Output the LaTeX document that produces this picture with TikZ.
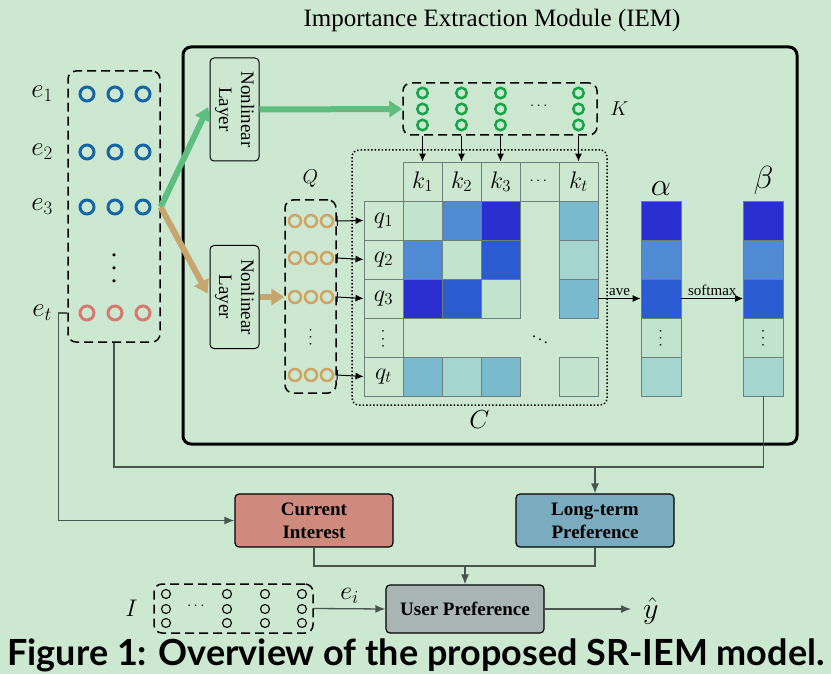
\documentclass[tikz,border=0pt]{standalone}
\RequirePackage{fix-cm}
\usepackage{amsmath,amssymb}
\usepackage{graphicx}
\usepackage{fontspec}
\setmainfont{Liberation Serif}
\newfontfamily\capfont{Lato}
\usetikzlibrary{arrows,arrows.meta,positioning,calc,backgrounds}

\definecolor{bgreen}{RGB}{205,232,208}
\definecolor{eblue}{RGB}{21,101,166}
\definecolor{ered}{RGB}{212,122,112}
\definecolor{kgreen}{RGB}{27,163,74}
\definecolor{qtan}{RGB}{207,164,103}
\definecolor{fgreen}{RGB}{93,190,127}
\definecolor{ftan}{RGB}{198,166,110}
\definecolor{curfill}{RGB}{205,138,125}
\definecolor{longfill}{RGB}{123,171,190}
\definecolor{userfill}{RGB}{168,181,178}
\definecolor{cdark}{RGB}{42,46,208}
\definecolor{cdeep}{RGB}{42,91,208}
\definecolor{cmed}{RGB}{80,138,210}
\definecolor{csteel}{RGB}{122,186,207}
\definecolor{cteal}{RGB}{164,214,207}
\definecolor{clight}{RGB}{194,228,207}
\definecolor{flowgray}{RGB}{74,85,80}
\definecolor{cellline}{RGB}{110,128,125}

\newcommand{\vdotsbig}{\rotatebox{90}{$\cdots$}}

\tikzstyle{ecirc}=[draw=eblue, circle, line width=3pt, minimum size=14pt, inner sep=0pt]
\tikzstyle{kcirc}=[draw=kgreen, circle, line width=2.5pt, minimum size=10.5pt, inner sep=0pt]
\tikzstyle{qcirc}=[draw=qtan, circle, line width=2.5pt, minimum size=12pt, inner sep=0pt]
\tikzstyle{icirc}=[draw=black, circle, line width=1.1pt, minimum size=9pt, inner sep=0pt]
\tikzstyle{dashbox}=[draw, line width=1.5pt, dash pattern=on 9pt off 5pt, rounded corners=8pt, inner sep=0pt]
\tikzstyle{procbox}=[draw, line width=1.2pt, rounded corners=4pt, inner sep=0pt, align=center, font=\fontsize{19}{23}\selectfont\bfseries]
\tikzstyle{nlbox}=[draw, line width=1pt, rounded corners=4pt, inner sep=0pt, minimum width=49pt, minimum height=103pt, font=\fontsize{19}{22}\selectfont]
\tikzstyle{cell}=[draw=cellline, line width=0.9pt, minimum size=39pt, inner sep=0pt, font=\fontsize{24}{28}\selectfont]
\tikzstyle{flow}=[draw=flowgray, line width=1.3pt, -{Latex[length=10pt,width=8pt]}]
\tikzstyle{flowline}=[draw=flowgray, line width=1.3pt]
\tikzstyle{thin}=[draw=black, line width=1pt, -{Latex[length=8pt,width=7pt]}]
\tikzstyle{fat}=[line width=6pt, -{Triangle[length=13pt,width=16pt]}]

\begin{document}
\begin{tikzpicture}[x=1pt, y=-1pt]
    \fill[bgreen] (0,0) rectangle (831,674);
    \useasboundingbox (0,0) rectangle (831,674);

    % module box and title
    \node[font=\fontsize{25}{30}\selectfont] (title) at (492,20) {Importance Extraction Module (IEM)};
    \node[draw, line width=3pt, rounded corners=8pt, minimum width=614pt, minimum height=397pt] (iem) at (490,245.5) {};

    % item embeddings
    \node[dashbox, minimum width=92pt, minimum height=271pt] (ebox) at (114,206.5) {};
    \foreach \r/\y in {1/94,2/152,3/207}
      \foreach \c/\x in {a/87,b/115,c/143}
        \node[ecirc] (e\r\c) at (\x,\y) {};
    \foreach \c/\x in {a/87,b/115,c/143}
      \node[ecirc, draw=ered] (et\c) at (\x,313) {};
    \node[font=\fontsize{30}{34}\selectfont] (edots) at (115,266) {\vdotsbig};
    \node[font=\fontsize{27}{30}\selectfont] (le1) at (42,94) {$e_1$};
    \node[font=\fontsize{27}{30}\selectfont] (le2) at (42,152) {$e_2$};
    \node[font=\fontsize{27}{30}\selectfont] (le3) at (42,207) {$e_3$};
    \node[font=\fontsize{27}{30}\selectfont] (let) at (42,313) {$e_t$};

    % nonlinear layers
    \node[nlbox] (nl1) at (234.5,109.5) {\rotatebox{-90}{\begin{tabular}{@{}c@{}}Nonlinear\\Layer\end{tabular}}};
    \node[nlbox] (nl2) at (234.5,297) {\rotatebox{-90}{\begin{tabular}{@{}c@{}}Nonlinear\\Layer\end{tabular}}};
    \draw[fat, fgreen, shorten >=3pt] (ebox.east |- e3c) -- ([yshift=5pt]nl1.west);
    \draw[fat, ftan, shorten >=4pt] (ebox.east |- e3c) -- (nl2.west);

    % keys
    \node[dashbox, minimum width=194pt, minimum height=52pt] (kbox) at (500,109) {};
    \foreach \n/\x in {1/422.5,2/461.5,3/500.5,t/578.5}
      \foreach \r/\y in {1/93,2/109,3/125}
        \node[kcirc] (k\n\r) at (\x,\y) {};
    \node[font=\fontsize{15}{18}\selectfont] (kdots) at (540,106) {$\cdots$};
    \node[font=\fontsize{20}{22}\selectfont, right=9pt of kbox] (klab) {$K$};
    \draw[fat, fgreen] (nl1.east) -- (kbox.west);

    % queries
    \node[dashbox, minimum width=51pt, minimum height=193pt] (qbox) at (310.5,296.5) {};
    \foreach \n/\y in {1/221,2/258,3/297,t/375}
      \foreach \c/\x in {a/295,b/311,c/327}
        \node[qcirc] (qc\n\c) at (\x,\y) {};
    \node[font=\fontsize{16}{20}\selectfont] (qdots) at (311,336) {\vdotsbig};
    \node[font=\fontsize{20}{22}\selectfont, above=8pt of qbox] (qlab) {$Q$};
    \draw[fat, ftan] (nl2.east) -- (nl2.east -| qbox.west);

    % matrix C
    \node[draw, line width=1.5pt, dotted, rounded corners=7pt, minimum width=255pt, minimum height=255pt] (cbox) at (479.5,277.5) {};
    \node[font=\fontsize{26}{30}\selectfont, below=1pt of cbox] (clab) {$C$};
    \node[cell] (hk1) at (422.5,181.5) {$k_1$};
    \node[cell] (hk2) at (461.5,181.5) {$k_2$};
    \node[cell] (hk3) at (500.5,181.5) {$k_3$};
    \node[cell] (hkd) at (539.5,181.5) {\fontsize{15}{18}\selectfont$\cdots$};
    \node[cell] (hkt) at (578.5,181.5) {$k_t$};
    \node[cell] (rq1) at (383.5,220.5) {$q_1$};
    \node[cell] (rq2) at (383.5,259.5) {$q_2$};
    \node[cell] (rq3) at (383.5,298.5) {$q_3$};
    \node[cell] (rqd) at (383.5,337.5) {\fontsize{16}{20}\selectfont\vdotsbig};
    \node[cell] (rqt) at (383.5,376.5) {$q_t$};
    \foreach \r/\y/\ca/\cb/\cc/\ct in {1/220.5/clight/cmed/cdark/csteel,
        2/259.5/cmed/clight/cdeep/cteal,
        3/298.5/cdark/cdeep/clight/csteel,
        t/376.5/csteel/cteal/csteel/clight}{
      \node[cell, fill=\ca] (c\r1) at (422.5,\y) {};
      \node[cell, fill=\cb] (c\r2) at (461.5,\y) {};
      \node[cell, fill=\cc] (c\r3) at (500.5,\y) {};
      \node[cell, fill=\ct] (c\r t) at (578.5,\y) {};
    }
    \node[font=\fontsize{16}{18}\selectfont] (cdots) at (540,337) {$\ddots$};

    \foreach \n in {1,2,3,t}
      \draw[thin] (kbox.south -| hk\n) -- (hk\n.north);
    \foreach \n in {1,2,3,t}
      \draw[thin, {Bar[width=10pt]}-{Latex[length=8pt,width=7pt]}] (qbox.east |- qc\n c) -- (rq\n.west);

    % alpha and beta
    \foreach \n/\y/\cl in {1/220.5/cdark,2/259.5/cmed,3/298.5/cdeep,4/337.5/clight,5/376.5/cteal}{
      \node[cell, minimum width=40pt, fill=\cl] (a\n) at (661,\y) {};
      \node[cell, minimum width=40pt, fill=\cl] (b\n) at (763.5,\y) {};
    }
    \node[font=\fontsize{16}{20}\selectfont] (adots) at (661,337) {\vdotsbig};
    \node[font=\fontsize{16}{20}\selectfont] (bdots) at (763.5,337) {\vdotsbig};
    \node[font=\fontsize{32}{36}\selectfont, above=2pt of a1] (alab) {$\alpha$};
    \node[font=\fontsize{32}{36}\selectfont, above=2pt of b1] (blab) {$\beta$};
    \draw[thin] (c3t.east) -- (a3.west) node[midway, above=-1pt, font=\fontsize{15}{18}\selectfont] {ave};
    \draw[thin] (a3.east) -- (b3.west) node[midway, above=-1pt, font=\fontsize{15}{18}\selectfont] {softmax};

    % preference boxes
    \node[procbox, fill=curfill, minimum width=158pt, minimum height=53pt] (cur) at (314,520.5) {Current\\Interest};
    \node[procbox, fill=longfill, minimum width=158pt, minimum height=53pt] (long) at (595,520.5) {Long-term\\Preference};
    \node[procbox, fill=userfill, minimum width=158pt, minimum height=48pt] (user) at (465,609) {User Preference};
    \coordinate (join) at (595,467);
    \coordinate (join2) at (465,566);

    \draw[flowline] (ebox.south) |- (join) -| (b5.south);
    \draw[flow] (join) -- (long.north);
    \draw[flow] (ebox.west |- eta) -- ++(-9,0) |- (cur.west);
    \draw[flowline] (cur.south) |- (join2) -| (long.south);
    \draw[flow] (join2) -- (user.north);

    % candidate items
    \node[dashbox, minimum width=159pt, minimum height=49pt] (ibox) at (233.5,608.5) {};
    \foreach \n/\x in {1/166,2/227,3/265,4/302}
      \foreach \r/\y in {1/594,2/609,3/623}
        \node[icirc] (i\n\r) at (\x,\y) {};
    \node[font=\fontsize{15}{18}\selectfont] (idots) at (197,606) {$\cdots$};
    \node[font=\fontsize{24}{26}\selectfont, left=12pt of ibox] (ilab) {$I$};
    \draw[flow] (ibox.east) -- (user.west) node[midway, above=1pt, font=\fontsize{26}{28}\selectfont] {$e_i$};
    \node[font=\fontsize{30}{32}\selectfont, inner sep=0pt, anchor=west] (yhat) at (643,611) {$\hat{y}$};
    \draw[flow, shorten >=12pt] (user.east) -- (user.east -| yhat.west);

    % caption
    \node[font=\capfont\bfseries] (caption) at (416,655) {\resizebox{817pt}{!}{Figure 1: Overview of the proposed SR-IEM model.}};
\end{tikzpicture}
\end{document}
